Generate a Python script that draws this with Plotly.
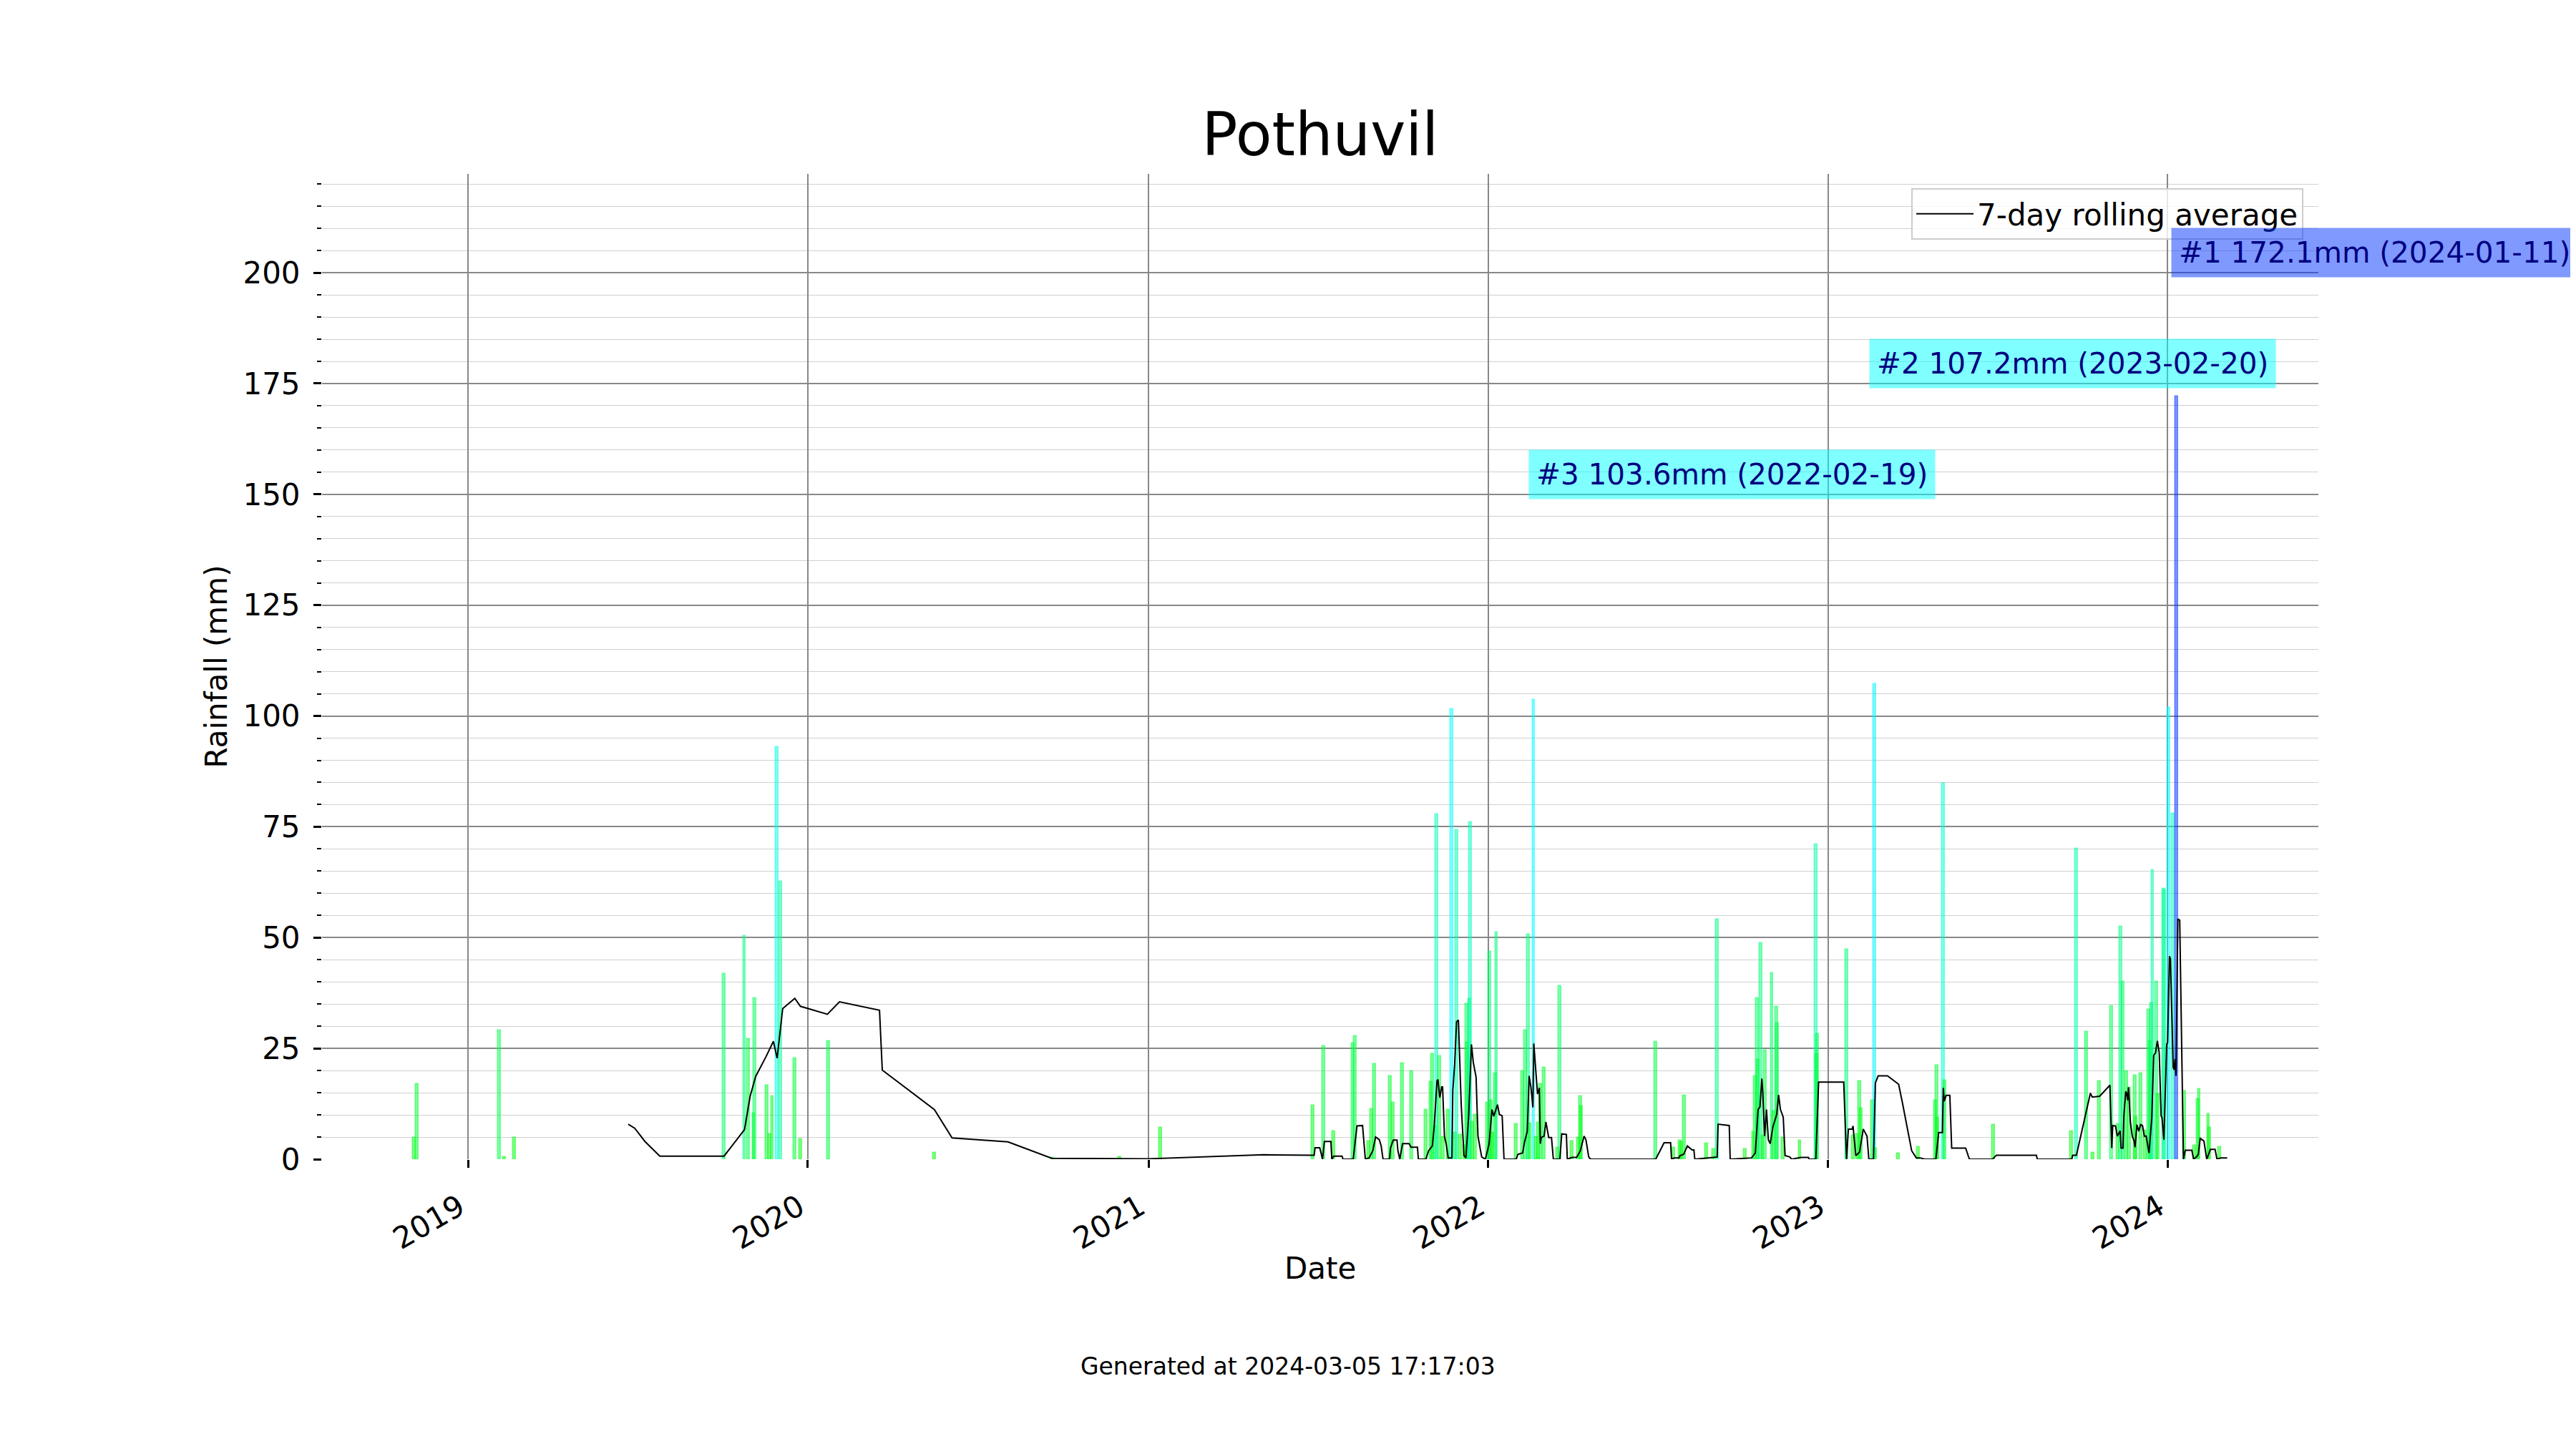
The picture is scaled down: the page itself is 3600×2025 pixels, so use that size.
import plotly.graph_objects as go

# daily rainfall (mm)
rain_dates = [
    "2018-11-04", "2018-11-07", "2019-02-04", "2019-02-09", "2019-02-20",
    "2019-10-03", "2019-10-25", "2019-10-29", "2019-11-04", "2019-11-05",
    "2019-11-18", "2019-11-21", "2019-11-24", "2019-11-29", "2019-12-03",
    "2019-12-18", "2019-12-24", "2020-01-23", "2020-05-16", "2020-09-20",
    "2020-12-01", "2021-01-14",
    "2021-06-27", "2021-07-08", "2021-07-19", "2021-08-09", "2021-08-11",
    "2021-08-26", "2021-08-29", "2021-09-01", "2021-09-18", "2021-09-21",
    "2021-10-01", "2021-10-11", "2021-10-26", "2021-11-01", "2021-11-02",
    "2021-11-05", "2021-11-07", "2021-11-10", "2021-11-14", "2021-11-19",
    "2021-11-23", "2021-11-27", "2021-11-28", "2021-12-02", "2021-12-07",
    "2021-12-09", "2021-12-10", "2021-12-12", "2021-12-13", "2021-12-15",
    "2021-12-18", "2021-12-31", "2022-01-03", "2022-01-04", "2022-01-06",
    "2022-01-09", "2022-01-10", "2022-01-31", "2022-02-07", "2022-02-10",
    "2022-02-13", "2022-02-15", "2022-02-19", "2022-02-22", "2022-02-24",
    "2022-02-26", "2022-03-02", "2022-03-17", "2022-03-19", "2022-04-01",
    "2022-04-08", "2022-04-10", "2022-04-11", "2022-06-30",
    "2022-07-19", "2022-07-26", "2022-07-28", "2022-07-31", "2022-08-24",
    "2022-08-31", "2022-09-04", "2022-10-04", "2022-10-13", "2022-10-15",
    "2022-10-17", "2022-10-18", "2022-10-21", "2022-10-23", "2022-10-26",
    "2022-11-02", "2022-11-04", "2022-11-07", "2022-11-08", "2022-11-14",
    "2022-12-02", "2022-12-19", "2022-12-20", "2022-12-21", "2023-01-21",
    "2023-01-28", "2023-02-02", "2023-02-04", "2023-02-06", "2023-02-18",
    "2023-02-20", "2023-02-21", "2023-03-18", "2023-04-08", "2023-04-27",
    "2023-04-28", "2023-04-29", "2023-05-05", "2023-05-07", "2023-06-28",
    "2023-09-20", "2023-09-25", "2023-10-06", "2023-10-13", "2023-10-20",
    "2023-11-02", "2023-11-09", "2023-11-12", "2023-11-14", "2023-11-18",
    "2023-11-21", "2023-11-27", "2023-11-28", "2023-12-03", "2023-12-08",
    "2023-12-12", "2023-12-13", "2023-12-15", "2023-12-16", "2023-12-20",
    "2023-12-22", "2023-12-28", "2023-12-29", "2024-01-02", "2024-01-07",
    "2024-01-11", "2024-01-19", "2024-01-30", "2024-02-03", "2024-02-04",
    "2024-02-14", "2024-02-15", "2024-02-26",
]
rain_mm = [
    4.8, 16.9, 29.1, 0.5, 4.8,
    41.8, 50.4, 27.2, 10.4, 36.3,
    16.7, 5.7, 14.2, 93.0, 62.7,
    22.7, 4.5, 26.6, 1.5, 0.3,
    0.5, 7.1,
    12.1, 25.5, 6.3, 26.1, 27.7,
    4.1, 11.3, 21.5, 18.8, 12.8,
    21.7, 19.9, 11.2, 17.5, 23.7,
    7.4, 77.8, 23.3, 5.0, 11.2,
    101.5, 6.0, 74.3, 5.5, 3.0,
    35.0, 26.3, 36.2, 76.1, 8.4,
    10.0, 12.8, 46.8, 13.3, 6.0,
    19.3, 51.1, 7.9, 19.9, 29.0,
    50.7, 8.0, 103.6, 5.0, 8.2,
    17.0, 20.7, 2.6, 39.1, 4.0,
    4.9, 14.2, 12.0, 26.5,
    2.6, 4.2, 3.9, 14.4, 3.6,
    2.2, 54.1, 2.2, 6.1, 18.8,
    36.3, 22.4, 48.7, 5.4, 24.6,
    41.9, 10.8, 34.4, 30.6, 4.9,
    4.2, 71.0, 23.7, 28.2, 47.3,
    5.3, 5.7, 17.6, 11.5, 13.2,
    107.2, 2.5, 1.3, 2.8, 13.3,
    21.2, 9.3, 84.8, 17.8, 7.7,
    6.3, 70.0, 28.7, 1.4, 17.6,
    34.6, 7.9, 52.5, 40.0, 19.9,
    16.1, 18.9, 9.5, 19.3, 6.5,
    33.8, 26.7, 35.2, 65.2, 40.0,
    14.7, 61.1, 60.7, 101.9, 78.0,
    172.1, 15.3, 3.0, 13.6, 15.8,
    10.1, 7.1, 2.8,
]

# 7-day rolling average as drawn on the chart
avg_dates = [
    "2019-06-22", "2019-06-29", "2019-07-10", "2019-07-26", "2019-10-03",
    "2019-10-25", "2019-10-31", "2019-11-06", "2019-11-17", "2019-11-25",
    "2019-11-29", "2019-12-03", "2019-12-05", "2019-12-18", "2019-12-24",
    "2020-01-22", "2020-02-04", "2020-03-18", "2020-03-21", "2020-05-16",
    "2020-06-04", "2020-08-03", "2020-09-19", "2021-01-01", "2021-05-05",
    "2021-06-28", "2021-06-29", "2021-07-04", "2021-07-05", "2021-07-07",
    "2021-07-09", "2021-07-16", "2021-07-17", "2021-07-19", "2021-07-28",
    "2021-07-29", "2021-08-09", "2021-08-13", "2021-08-19", "2021-08-22",
    "2021-08-26", "2021-08-30", "2021-09-02", "2021-09-06", "2021-09-08",
    "2021-09-10", "2021-09-17", "2021-09-18", "2021-09-21", "2021-09-25",
    "2021-09-26", "2021-09-28", "2021-10-01", "2021-10-08", "2021-10-10",
    "2021-10-17", "2021-10-18", "2021-10-26", "2021-10-29", "2021-11-02",
    "2021-11-04", "2021-11-07", "2021-11-08", "2021-11-10", "2021-11-12",
    "2021-11-13", "2021-11-15", "2021-11-17", "2021-11-19", "2021-11-23",
    "2021-11-24", "2021-11-26", "2021-11-28", "2021-11-30", "2021-12-03",
    "2021-12-06", "2021-12-08", "2021-12-11", "2021-12-14", "2021-12-16",
    "2021-12-19", "2021-12-21", "2021-12-25", "2021-12-29", "2022-01-02",
    "2022-01-05", "2022-01-07", "2022-01-11", "2022-01-13", "2022-01-16",
    "2022-01-18", "2022-01-31", "2022-02-02", "2022-02-07", "2022-02-09",
    "2022-02-12", "2022-02-14", "2022-02-16", "2022-02-18", "2022-02-19",
    "2022-02-23", "2022-02-25", "2022-02-26", "2022-02-27", "2022-03-02",
    "2022-03-04", "2022-03-07", "2022-03-10", "2022-03-12", "2022-03-19",
    "2022-03-21", "2022-03-26", "2022-03-27", "2022-04-01", "2022-04-06",
    "2022-04-10", "2022-04-14", "2022-04-16", "2022-04-19", "2022-04-21",
    "2022-06-30", "2022-07-09", "2022-07-16", "2022-07-17", "2022-07-20",
    "2022-07-25", "2022-07-26", "2022-07-30", "2022-08-03", "2022-08-05",
    "2022-08-08", "2022-08-10", "2022-08-11", "2022-08-25", "2022-09-04",
    "2022-09-05", "2022-09-17", "2022-09-18", "2022-10-05", "2022-10-11",
    "2022-10-15", "2022-10-18", "2022-10-20", "2022-10-22", "2022-10-23",
    "2022-10-25", "2022-10-27", "2022-10-29", "2022-10-31", "2022-11-03",
    "2022-11-07", "2022-11-09", "2022-11-11", "2022-11-14", "2022-11-16",
    "2022-11-21", "2022-11-23", "2022-12-03", "2022-12-11", "2022-12-12",
    "2022-12-19", "2022-12-22", "2023-01-18", "2023-01-21", "2023-01-23",
    "2023-01-27", "2023-01-28", "2023-01-31", "2023-02-04", "2023-02-08",
    "2023-02-12", "2023-02-14", "2023-02-19", "2023-02-21", "2023-02-24",
    "2023-03-06", "2023-03-18", "2023-03-22", "2023-04-01", "2023-04-06",
    "2023-04-10", "2023-04-15", "2023-04-27", "2023-04-30", "2023-05-04",
    "2023-05-05", "2023-05-06", "2023-05-08", "2023-05-12", "2023-05-14",
    "2023-05-29", "2023-06-02", "2023-06-27", "2023-07-01", "2023-08-13",
    "2023-08-14", "2023-09-20", "2023-09-21", "2023-09-25", "2023-10-04",
    "2023-10-10", "2023-10-12", "2023-10-20", "2023-10-31", "2023-11-02",
    "2023-11-03", "2023-11-06", "2023-11-08", "2023-11-11", "2023-11-12",
    "2023-11-14", "2023-11-15", "2023-11-17", "2023-11-18", "2023-11-19",
    "2023-11-20", "2023-11-22", "2023-11-24", "2023-11-26", "2023-11-27",
    "2023-11-29", "2023-12-01", "2023-12-03", "2023-12-05", "2023-12-07",
    "2023-12-09", "2023-12-10", "2023-12-12", "2023-12-15", "2023-12-17",
    "2023-12-19", "2023-12-21", "2023-12-23", "2023-12-25", "2023-12-26",
    "2023-12-28", "2023-12-31", "2024-01-01", "2024-01-03", "2024-01-04",
    "2024-01-07", "2024-01-08", "2024-01-09", "2024-01-10", "2024-01-12",
    "2024-01-14", "2024-01-18", "2024-01-20", "2024-01-27", "2024-01-29",
    "2024-02-01", "2024-02-03", "2024-02-05", "2024-02-09", "2024-02-12",
    "2024-02-16", "2024-02-21", "2024-02-23", "2024-02-27", "2024-03-05",
]
avg_mm = [
    7.9, 7.0, 4.0, 0.7, 0.7,
    6.7, 14.2, 18.7, 23.1, 26.6,
    22.8, 30.6, 34.0, 36.3, 34.5,
    32.7, 35.5, 33.6, 20.1, 11.2,
    4.8, 3.9, 0.2, 0.1, 1.0,
    0.9, 2.6, 2.6, 1.6, 0.0,
    4.0, 4.0, 0.0, 0.7, 0.7,
    0.0, 0.0, 7.5, 7.6, 0.0,
    0.3, 1.9, 5.0, 4.4, 3.0,
    0.0, 0.0, 2.5, 4.3, 4.3,
    1.9, 0.0, 3.5, 3.5, 2.7,
    2.7, 0.0, 0.0, 1.9, 3.0,
    7.4, 17.7, 18.0, 13.9, 16.3,
    16.3, 5.2, 3.3, 0.3, 0.3,
    15.5, 21.5, 31.0, 31.4, 12.3,
    0.8, 0.3, 9.5, 25.9, 21.8,
    18.5, 5.2, 0.5, 0.0, 3.5,
    11.2, 9.7, 12.3, 10.1, 9.8,
    0.0, 0.0, 1.1, 1.4, 3.8,
    6.3, 18.8, 16.1, 11.7, 26.1,
    14.7, 16.1, 3.5, 4.9, 5.2,
    8.4, 4.9, 4.9, 0.0, 0.0,
    5.7, 5.6, 0.0, 0.4, 0.4,
    1.9, 5.2, 4.4, 0.5, 0.0,
    0.0, 3.7, 3.7, 0.0, 0.3,
    0.3, 0.8, 1.1, 3.0, 2.6,
    2.1, 2.1, 0.0, 0.3, 0.5,
    7.9, 7.6, 0.0, 0.3, 0.3,
    1.4, 11.2, 11.8, 18.2, 15.3,
    5.2, 11.2, 4.4, 3.5, 7.4,
    10.1, 14.5, 11.2, 9.5, 0.8,
    0.5, 0.0, 0.4, 0.4, 0.0,
    0.0, 17.4, 17.4, 0.0, 6.8,
    6.8, 7.5, 0.8, 1.6, 6.8,
    5.2, 0.0, 0.0, 17.2, 18.8,
    18.8, 16.9, 12.8, 1.9, 0.3,
    0.3, 0.0, 0.0, 6.0, 6.0,
    16.1, 13.1, 14.4, 14.4, 2.5,
    2.5, 0.0, 0.0, 0.9, 0.9,
    0.0, 0.0, 0.9, 0.9, 9.5,
    14.9, 14.0, 14.2, 16.7, 2.5,
    7.6, 7.5, 5.2, 6.4, 2.5,
    2.5, 9.8, 15.3, 14.9, 13.3,
    16.2, 8.4, 5.2, 4.1, 2.7,
    7.8, 6.3, 7.8, 7.6, 5.2,
    5.2, 4.1, 1.4, 9.3, 23.4,
    24.0, 26.7, 24.0, 9.8, 9.3,
    4.4, 25.9, 26.4, 45.8, 45.2,
    20.7, 20.2, 22.6, 18.8, 54.2,
    53.9, 0.0, 2.0, 2.0, 0.0,
    0.5, 1.1, 4.7, 4.1, 0.0,
    2.2, 2.2, 0.0, 0.3, 0.3,
]

station = "Pothuvil"
generated_at = "2024-03-05 17:17:03"
x_range = ["2018-07-28", "2024-06-11"]
y_max = 222.3

FONT = "DejaVu Sans"
DAY_MS = 86400000
BAR_SCALE = [
    [0.0, "rgba(0,255,0,0.5)"],
    [0.6, "rgba(0,255,255,0.5)"],
    [1.0, "rgba(0,51,255,0.5)"],
]
BOX_COLORS = ["rgba(0,51,255,0.5)", "rgba(0,255,255,0.5)", "rgba(0,255,255,0.5)"]

fig = go.Figure()

fig.add_trace(go.Bar(
    x=rain_dates,
    y=rain_mm,
    width=3 * DAY_MS,
    marker=dict(color=rain_mm, colorscale=BAR_SCALE, cmin=0, cmax=max(rain_mm),
                line=dict(width=1.5, color=rain_mm, colorscale=BAR_SCALE,
                          cmin=0, cmax=max(rain_mm))),
    showlegend=False,
    hoverinfo="x+y",
))

fig.add_trace(go.Scatter(
    x=avg_dates,
    y=avg_mm,
    mode="lines",
    line=dict(color="black", width=2),
    name="7-day rolling average",
))

# top 3 wettest days
top = sorted(zip(rain_mm, rain_dates), reverse=True)[:3]
for i, (val, day) in enumerate(top):
    fig.add_annotation(
        x=day, y=y_max * 0.92 - 25 * i, xref="x", yref="y",
        text="#{} {:.1f}mm ({})".format(i + 1, val, day),
        showarrow=False, xanchor="left", yanchor="middle", xshift=-8,
        font=dict(family=FONT, size=40.5, color="#000080"),
        bgcolor=BOX_COLORS[i], borderpad=10,
    )

# x axis title and footer placed relative to the plot area
fig.add_annotation(
    text="Date", xref="paper", yref="paper", x=0.5, y=-0.111,
    xanchor="center", yanchor="middle", showarrow=False,
    font=dict(family=FONT, size=42, color="black"),
)
fig.add_annotation(
    text="Generated at " + generated_at,
    xref="paper", yref="paper", x=0.4839, y=-0.2106,
    xanchor="center", yanchor="middle", showarrow=False,
    font=dict(family=FONT, size=33, color="black"),
)

fig.update_layout(
    width=3600, height=2025,
    margin=dict(l=442, r=368, t=235, b=413),
    plot_bgcolor="white", paper_bgcolor="white",
    font=dict(family=FONT, size=42, color="black"),
    title=dict(text=station, x=0.5, xref="paper", y=1 - 180 / 2025, yanchor="middle",
               font=dict(family=FONT, size=83, color="black")),
    bargap=0,
    legend=dict(x=0.9925, y=0.9855, xanchor="right", yanchor="top",
                bgcolor="rgba(255,255,255,0.8)", bordercolor="#cccccc", borderwidth=2,
                itemwidth=80, font=dict(family=FONT, size=42)),
    xaxis=dict(
        type="date", range=x_range,
        tick0="2019-01-01", dtick="M12", tickformat="%Y", tickangle=-30,
        ticks="outside", ticklen=11, tickwidth=2.5, tickcolor="black",
        ticklabelshift=-12, ticklabelstandoff=14,
        showgrid=True, gridcolor="#888888", gridwidth=2,
        showline=False, zeroline=False,
    ),
    yaxis=dict(
        range=[0, y_max], dtick=25, tick0=0,
        ticks="outside", ticklen=11, tickwidth=2.5, tickcolor="black",
        ticklabelstandoff=10,
        showgrid=True, gridcolor="#888888", gridwidth=2,
        minor=dict(dtick=5, ticks="outside", ticklen=6, tickwidth=2, tickcolor="black",
                   showgrid=True, gridcolor="#d0d0d0", gridwidth=1.3),
        showline=False, zeroline=False,
        title=dict(text="Rainfall (mm)", standoff=8, font=dict(family=FONT, size=42)),
    ),
)

fig.write_html("out.html")
